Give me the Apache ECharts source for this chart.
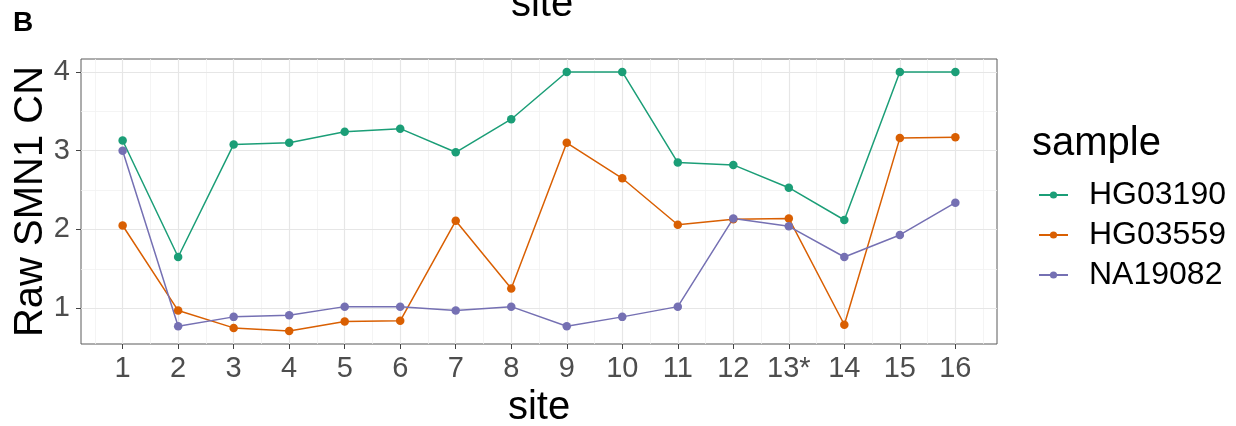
<!DOCTYPE html>
<html>
<head>
<meta charset="utf-8">
<script src="https://cdn.jsdelivr.net/npm/echarts@6/dist/echarts.min.js"></script>
<style>
  html, body { margin: 0; padding: 0; background: #fff; }
  #chart { width: 1236px; height: 426px; }
</style>
</head>
<body>
<div id="chart"></div>
<script>
// Sites along the x axis and the labels printed under them
const sites = [1, 2, 3, 4, 5, 6, 7, 8, 9, 10, 11, 12, 13, 14, 15, 16];
const siteLabels = ['1', '2', '3', '4', '5', '6', '7', '8', '9', '10', '11', '12', '13*', '14', '15', '16'];

// Raw SMN1 copy number per sample at each site
const hg03190 = [3.13, 1.65, 3.08, 3.10, 3.24, 3.28, 2.98, 3.40, 4.00, 4.00, 2.85, 2.82, 2.53, 2.12, 4.00, 4.00];
const hg03559 = [2.05, 0.97, 0.75, 0.71, 0.83, 0.84, 2.11, 1.25, 3.10, 2.65, 2.06, 2.13, 2.14, 0.79, 3.16, 3.17];
const na19082 = [3.00, 0.77, 0.89, 0.91, 1.02, 1.02, 0.97, 1.02, 0.77, 0.89, 1.02, 2.14, 2.04, 1.65, 1.93, 2.34];

const sampleNames = ['HG03190', 'HG03559', 'NA19082'];
const sampleColors = ['#1B9E77', '#D95F02', '#7570B3'];

// Y breaks
const yBreaks = [1, 2, 3, 4];
const yMinorBreaks = [1.5, 2.5, 3.5];
const xMinorBreaks = [0.5, 1.5, 2.5, 3.5, 4.5, 5.5, 6.5, 7.5, 8.5, 9.5, 10.5, 11.5, 12.5, 13.5, 14.5, 15.5, 16.5];

// Axis limits: data range padded by 5% on each side
const allY = hg03190.concat(hg03559, na19082);
const yLo = Math.min.apply(null, allY), yHi = Math.max.apply(null, allY);
const yPad = (yHi - yLo) * 0.05;
const xPad = (sites[sites.length - 1] - sites[0]) * 0.05;

const FONT = 'Liberation Sans, Arial, sans-serif';

const pairs = (vals) => sites.map((s, i) => [s, vals[i]]);

const majorStyle = { color: '#e6e6e6', width: 1.2, type: 'solid' };
const minorStyle = { color: '#f1f1f1', width: 0.8, type: 'solid' };

const gridLines = []
  .concat(xMinorBreaks.map(v => ({ xAxis: v, lineStyle: minorStyle })))
  .concat(yMinorBreaks.map(v => ({ yAxis: v, lineStyle: minorStyle })))
  .concat(sites.map(v => ({ xAxis: v, lineStyle: majorStyle })))
  .concat(yBreaks.map(v => ({ yAxis: v, lineStyle: majorStyle })));

const lineSeries = [hg03190, hg03559, na19082].map((vals, i) => ({
  name: sampleNames[i],
  type: 'line',
  data: pairs(vals),
  z: 10,
  symbol: 'circle',
  symbolSize: 8.5,
  showAllSymbol: true,
  color: sampleColors[i],
  lineStyle: { width: 1.5, color: sampleColors[i] },
  itemStyle: { color: sampleColors[i] },
  emphasis: { disabled: true },
  animation: false
}));

const chart = echarts.init(document.getElementById('chart'), null, { renderer: 'canvas' });

chart.setOption({
  animation: false,
  backgroundColor: '#ffffff',
  textStyle: { fontFamily: FONT },
  grid: {
    left: 81, right: 239, top: 59, bottom: 82,
    outerBoundsMode: 'none',
    containLabel: false,
    show: true, borderColor: '#5a5a5a', borderWidth: 1, backgroundColor: '#fff'
  },
  xAxis: {
    type: 'value',
    min: sites[0] - xPad,
    max: sites[sites.length - 1] + xPad,
    name: 'site',
    nameLocation: 'middle',
    nameGap: 64,
    nameMoveOverlap: false,
    nameTextStyle: { fontSize: 40, color: '#000', fontFamily: FONT, verticalAlign: 'middle' },
    axisLine: { show: false },
    axisTick: { show: true, length: 5, customValues: sites, lineStyle: { color: '#444', width: 1 } },
    axisLabel: {
      customValues: sites,
      fontSize: 29, color: '#4d4d4d', fontFamily: FONT, margin: 10,
      formatter: (v) => siteLabels[sites.indexOf(Math.round(v))]
    },
    splitLine: { show: false }
  },
  yAxis: {
    type: 'value',
    min: yLo - yPad,
    max: yHi + yPad,
    name: 'Raw SMN1 CN',
    nameLocation: 'middle',
    nameGap: 50,
    nameMoveOverlap: false,
    nameRotate: 90,
    nameTextStyle: { fontSize: 40, color: '#000', fontFamily: FONT, verticalAlign: 'middle' },
    axisLine: { show: false },
    axisTick: { show: true, length: 5, customValues: yBreaks, lineStyle: { color: '#444', width: 1 } },
    axisLabel: { customValues: yBreaks, fontSize: 29, color: '#4d4d4d', fontFamily: FONT, margin: 11 },
    splitLine: { show: false }
  },
  legend: {
    orient: 'vertical',
    left: 1033,
    top: 174,
    itemWidth: 29,
    itemHeight: 9,
    itemGap: 8,
    data: sampleNames,
    textStyle: { fontSize: 32, color: '#000', fontFamily: FONT, padding: [0, 0, 0, 16] }
  },
  graphic: [
    { type: 'text', left: 13, top: 9, style: { text: 'B', fontSize: 28, fontWeight: 'bold', fill: '#000', fontFamily: FONT } },
    { type: 'text', x: 542, y: 5, style: { text: 'site', fontSize: 40, fill: '#000', fontFamily: FONT, align: 'center', verticalAlign: 'middle' } },
    { type: 'text', x: 1032, y: 144, style: { text: 'sample', fontSize: 40, fill: '#000', fontFamily: FONT, align: 'left', verticalAlign: 'middle' } }
  ],
  series: [{
    type: 'line',
    data: [],
    z: 1,
    silent: true,
    markLine: {
      z: 1,
      silent: true,
      symbol: ['none', 'none'],
      label: { show: false },
      emphasis: { disabled: true },
      animation: false,
      data: gridLines
    }
  }].concat(lineSeries)
});
</script>
</body>
</html>
